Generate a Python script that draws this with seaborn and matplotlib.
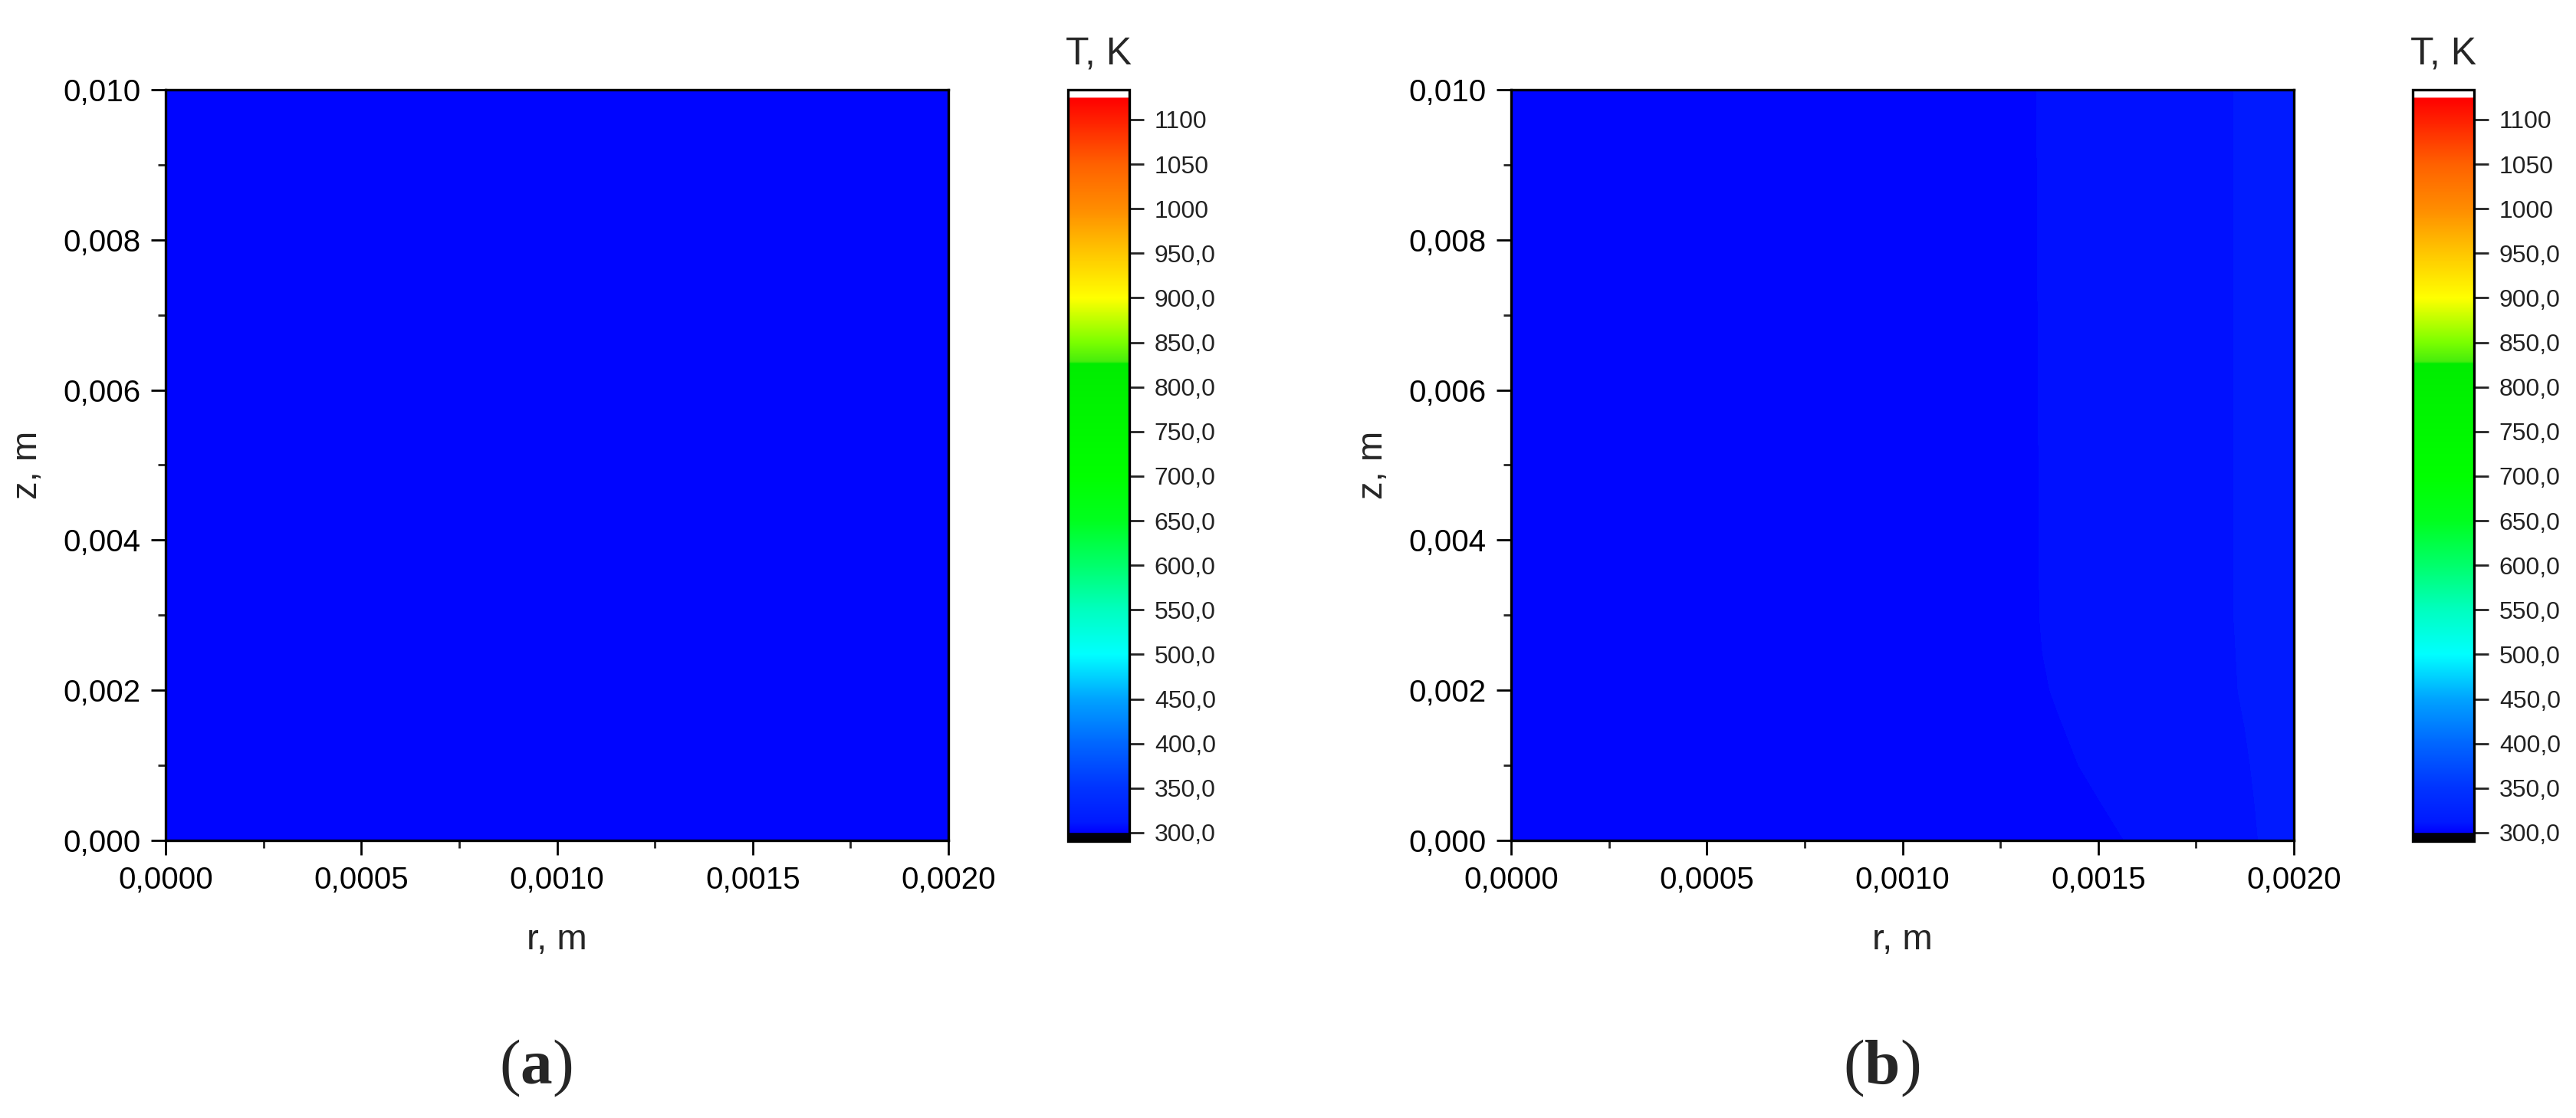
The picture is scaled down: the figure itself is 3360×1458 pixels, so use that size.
import numpy as np
import pandas as pd
import matplotlib
matplotlib.use("Agg")
import matplotlib.pyplot as plt
import seaborn as sns
from matplotlib.colors import LinearSegmentedColormap, Normalize
from matplotlib.cm import ScalarMappable
from matplotlib.ticker import FixedLocator, FixedFormatter, MultipleLocator, NullLocator

# ---------------- data ----------------
# radial / axial sample positions (m)
r_grid = [0.0, 0.0005, 0.0010, 0.0012, 0.0014, 0.0016, 0.0018, 0.0020]
z_grid = [0.0, 0.0005, 0.0010, 0.0015, 0.0020, 0.0025, 0.0030, 0.0100]

# panel (a): uniform initial temperature (K)
T_a = [[300.0] * len(r_grid) for _ in z_grid]

# panel (b): temperature field (rows = z, cols = r)
T_b = [
    [302.0, 302.5, 303.0, 303.5, 304.0, 305.2, 308.8, 311.0],
    [302.0, 302.5, 303.0, 303.5, 304.3, 305.6, 309.0, 311.0],
    [302.0, 302.5, 303.0, 303.5, 304.6, 306.2, 309.2, 311.0],
    [302.0, 302.5, 303.0, 303.5, 304.9, 306.5, 309.4, 311.0],
    [302.0, 302.5, 303.0, 303.5, 305.2, 306.8, 309.6, 311.0],
    [302.0, 302.5, 303.0, 303.5, 305.4, 306.9, 309.65, 311.0],
    [302.0, 302.5, 303.0, 303.5, 305.5, 307.0, 309.7, 311.0],
    [302.0, 302.5, 303.0, 303.5, 305.6, 307.0, 309.7, 311.0],
]

x_ticks = [0.0, 0.0005, 0.0010, 0.0015, 0.0020]
x_tick_labels = ["0,0000", "0,0005", "0,0010", "0,0015", "0,0020"]
y_ticks = [0.0, 0.002, 0.004, 0.006, 0.008, 0.010]
y_tick_labels = ["0,000", "0,002", "0,004", "0,006", "0,008", "0,010"]
cb_ticks = [300, 350, 400, 450, 500, 550, 600, 650, 700, 750, 800, 850,
            900, 950, 1000, 1050, 1100]
cb_tick_labels = ["300,0", "350,0", "400,0", "450,0", "500,0", "550,0",
                  "600,0", "650,0", "700,0", "750,0", "800,0", "850,0",
                  "900,0", "950,0", "1000", "1050", "1100"]
panel_labels = ["a", "b"]

# ---------------- style ----------------
sns.set_theme(style="ticks")
plt.rcParams['font.family'] = ['Liberation Sans', 'DejaVu Sans']
plt.rcParams['mathtext.fontset'] = 'custom'
plt.rcParams['mathtext.rm'] = 'Liberation Serif'
plt.rcParams['mathtext.bf'] = 'Liberation Serif:bold'

T_MIN, T_MAX = 290.5, 1133.5
nodes = [
    (290.5, (0, 0, 0)), (299.0, (0, 0, 0.08)), (300.0, (0, 0, 1)),
    (312.0, (0, 0.10, 1)), (350.0, (0, 0.20, 1)), (400.0, (0, 0.40, 1)),
    (450.0, (0, 0.64, 1)), (500.0, (0, 1, 1)), (550.0, (0, 1, 0.75)),
    (600.0, (0, 1, 0.42)), (650.0, (0, 1, 0.12)), (700.0, (0, 1, 0)),
    (826.0, (0, 0.93, 0)), (829.0, (0.28, 0.93, 0.05)), (850.0, (0.48, 1, 0)),
    (900.0, (1, 1, 0)), (950.0, (1, 0.78, 0)), (1000.0, (1, 0.55, 0)),
    (1050.0, (1, 0.38, 0)), (1100.0, (1, 0.12, 0)), (1124.5, (1, 0, 0)),
    (1125.5, (1, 1, 1)), (1133.5, (1, 1, 1)),
]
cmap = LinearSegmentedColormap.from_list(
    "origin_rainbow",
    [((t - T_MIN) / (T_MAX - T_MIN), c) for t, c in nodes], N=2048)
levels = np.arange(300, 1130, 5)

W, H = 3360, 1458
fig = plt.figure(figsize=(W / 200, H / 200), dpi=200)


def draw_panel(ax_left, cb_left, T, letter):
    norm = Normalize(vmin=T_MIN, vmax=T_MAX)
    ax = fig.add_axes([ax_left / W, 1 - 1096 / H, 1021 / W, 979 / H])
    cax = fig.add_axes([cb_left / W, 1 - 1097 / H, 80 / W, 980 / H])
    Z = np.array(T)
    ax.contourf(r_grid, z_grid, Z, levels=levels, cmap=cmap,
                norm=Normalize(vmin=T_MIN, vmax=T_MAX))
    ax.set_xlim(0, 0.002)
    ax.set_ylim(0, 0.010)
    ax.xaxis.set_major_locator(FixedLocator(x_ticks))
    ax.xaxis.set_major_formatter(FixedFormatter(x_tick_labels))
    ax.yaxis.set_major_locator(FixedLocator(y_ticks))
    ax.yaxis.set_major_formatter(FixedFormatter(y_tick_labels))
    ax.xaxis.set_minor_locator(MultipleLocator(0.00025))
    ax.yaxis.set_minor_locator(MultipleLocator(0.001))
    ax.tick_params(which='major', direction='out', length=6.8, width=1.0,
                   labelsize=14.5, pad=5, colors='black')
    ax.tick_params(which='minor', direction='out', length=3.6, width=1.0)
    for s in ax.spines.values():
        s.set_linewidth(1.2)
        s.set_color('black')
    ax.set_xlabel("r, m", fontsize=17)
    ax.set_ylabel("z, m", fontsize=17)
    ax.xaxis.set_label_coords(0.5, -0.11)
    ax.yaxis.set_label_coords(-0.155, 0.5)

    sm = ScalarMappable(norm=norm, cmap=cmap)
    cb = fig.colorbar(sm, cax=cax)
    cb.outline.set_linewidth(1.2)
    cb.outline.set_edgecolor('black')
    cb.set_ticks(cb_ticks, labels=cb_tick_labels)
    cax.yaxis.set_minor_locator(NullLocator())
    cax.tick_params(direction='out', length=6.8, width=1.0, labelsize=11.5,
                    pad=5, colors='#222222')
    cax.set_title("T, K", fontsize=18, pad=12)

    fig.text((ax_left + 483) / W, 1 - 1393 / H,
             r"$\mathrm{(}\mathbf{" + letter + r"}\mathrm{)}$",
             fontsize=30, ha='center', va='center')


draw_panel(216, 1393, T_a, panel_labels[0])
draw_panel(1971, 3147, T_b, panel_labels[1])

fig.savefig("out.png", dpi=200, facecolor='white')
